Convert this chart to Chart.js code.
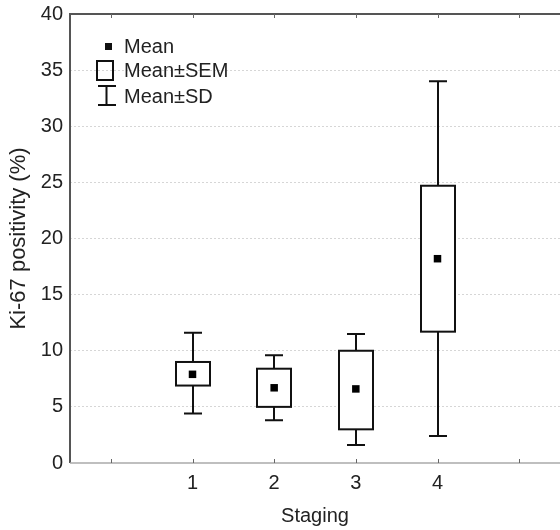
<!DOCTYPE html>
<html>
<head>
<meta charset="utf-8">
<script src="https://cdn.jsdelivr.net/npm/chart.js@4/dist/chart.umd.min.js"></script>
<style>
  body { margin: 0; background: #fff; }
  canvas { display: block; }
</style>
</head>
<body>
<canvas id="kiChart" width="560" height="530"></canvas>
<script>
const stages = [1, 2, 3, 4];
const means = [7.9, 6.7, 6.6, 18.2];
const semLow = [6.9, 5.0, 3.0, 11.7];
const semHigh = [9.0, 8.4, 10.0, 24.7];
const sdLow = [4.4, 3.8, 1.6, 2.4];
const sdHigh = [11.6, 9.6, 11.5, 34.0];
const xTicks = [0, 1, 2, 3, 4, 5];
const xLabels = ['', '1', '2', '3', '4', ''];
const yTicks = [0, 5, 10, 15, 20, 25, 30, 35, 40];

const FONT = '"Liberation Sans", Arial, sans-serif';
const ctx = document.getElementById('kiChart').getContext('2d');

// boxes, whiskers, frame and legend are drawn here with the chart's scales
const boxPlugin = {
  id: 'boxPlugin',
  beforeDatasetsDraw(chart) {
    const c = chart.ctx;
    const xs = chart.scales.x;
    const ys = chart.scales.y;
    const area = chart.chartArea;
    c.save();

    // frame: dark top + left, light bottom
    c.strokeStyle = '#555';
    c.lineWidth = 2;
    c.beginPath();
    c.moveTo(area.left, area.bottom); c.lineTo(area.left, area.top); c.lineTo(area.right, area.top);
    c.stroke();
    c.strokeStyle = '#aaa';
    c.lineWidth = 1.5;
    c.beginPath();
    c.moveTo(area.left, area.bottom); c.lineTo(area.right, area.bottom);
    c.stroke();

    // small inward ticks on top and bottom
    c.lineWidth = 1;
    c.strokeStyle = '#666';
    xTicks.forEach(v => {
      const px = Math.round(xs.getPixelForValue(v)) + 0.5;
      c.beginPath();
      c.moveTo(px, area.top); c.lineTo(px, area.top + 4);
      c.moveTo(px, area.bottom); c.lineTo(px, area.bottom - 4);
      c.stroke();
    });

    // whiskers + SEM boxes
    c.strokeStyle = '#111';
    c.lineWidth = 2;
    stages.forEach((s, i) => {
      const px = Math.round(xs.getPixelForValue(s));
      const yTop = ys.getPixelForValue(sdHigh[i]);
      const yBot = ys.getPixelForValue(sdLow[i]);
      const bTop = ys.getPixelForValue(semHigh[i]);
      const bBot = ys.getPixelForValue(semLow[i]);
      c.beginPath();
      c.moveTo(px, yTop); c.lineTo(px, yBot);
      c.moveTo(px - 9, yTop); c.lineTo(px + 9, yTop);
      c.moveTo(px - 9, yBot); c.lineTo(px + 9, yBot);
      c.stroke();
      c.fillStyle = '#fff';
      c.fillRect(px - 17, bTop, 34, bBot - bTop);
      c.strokeRect(px - 17, bTop, 34, bBot - bTop);
    });

    // legend
    c.fillStyle = '#111';
    c.fillRect(105, 43, 7, 7);
    c.strokeRect(97, 61, 16, 19);
    c.beginPath();
    c.moveTo(106.5, 86); c.lineTo(106.5, 105);
    c.moveTo(98, 86); c.lineTo(116, 86);
    c.moveTo(98, 105); c.lineTo(116, 105);
    c.stroke();
    c.font = '20px ' + FONT;
    c.fillStyle = '#222';
    c.textBaseline = 'alphabetic';
    c.textAlign = 'left';
    c.fillText('Mean', 124, 53);
    c.fillText('Mean\u00b1SEM', 124, 77);
    c.fillText('Mean\u00b1SD', 124, 103);
    c.restore();
  }
};

new Chart(ctx, {
  type: 'scatter',
  data: {
    datasets: [{
      label: 'Mean',
      data: stages.map((s, i) => ({ x: s, y: means[i] })),
      pointStyle: 'rect',
      pointRadius: 5.3,
      pointBorderWidth: 0,
      backgroundColor: '#000',
      borderColor: '#000'
    }]
  },
  options: {
    responsive: false,
    animation: false,
    layout: { autoPadding: false, padding: { top: 14, right: -2, left: 0, bottom: 0 } },
    plugins: {
      legend: { display: false },
      tooltip: { enabled: false }
    },
    scales: {
      x: {
        type: 'linear',
        min: -0.5,
        max: 5.5,
        afterBuildTicks: s => { s.ticks = xTicks.map(v => ({ value: v })); },
        afterFit: s => { s.height = 67; s.paddingLeft = 0; s.paddingRight = 0; },
        grid: { display: false, drawTicks: false },
        border: { display: false },
        ticks: {
          padding: 8,
          color: '#222',
          font: { size: 20, family: FONT },
          callback: (v, idx) => xLabels[idx]
        },
        title: {
          display: true,
          text: 'Staging',
          color: '#222',
          font: { size: 20, family: FONT },
          padding: { top: 0, bottom: 2 }
        }
      },
      y: {
        min: 0,
        max: 40,
        afterBuildTicks: s => { s.ticks = yTicks.map(v => ({ value: v })); },
        afterFit: s => { s.width = 70; s.paddingTop = 0; s.paddingBottom = 0; },
        grid: {
          drawTicks: false,
          color: c => (c.tick.value === 0 || c.tick.value === 40) ? 'rgba(0,0,0,0)' : '#d6d6d6',
          lineWidth: 1
        },
        border: { display: false, dash: [2, 2] },
        ticks: {
          padding: 7,
          color: '#222',
          font: { size: 20, family: FONT }
        },
        title: {
          display: true,
          text: 'Ki-67 positivity (%)',
          color: '#222',
          font: { size: 22, family: FONT },
          padding: { top: 6, bottom: 0 }
        }
      }
    }
  },
  plugins: [boxPlugin]
});
</script>
</body>
</html>
